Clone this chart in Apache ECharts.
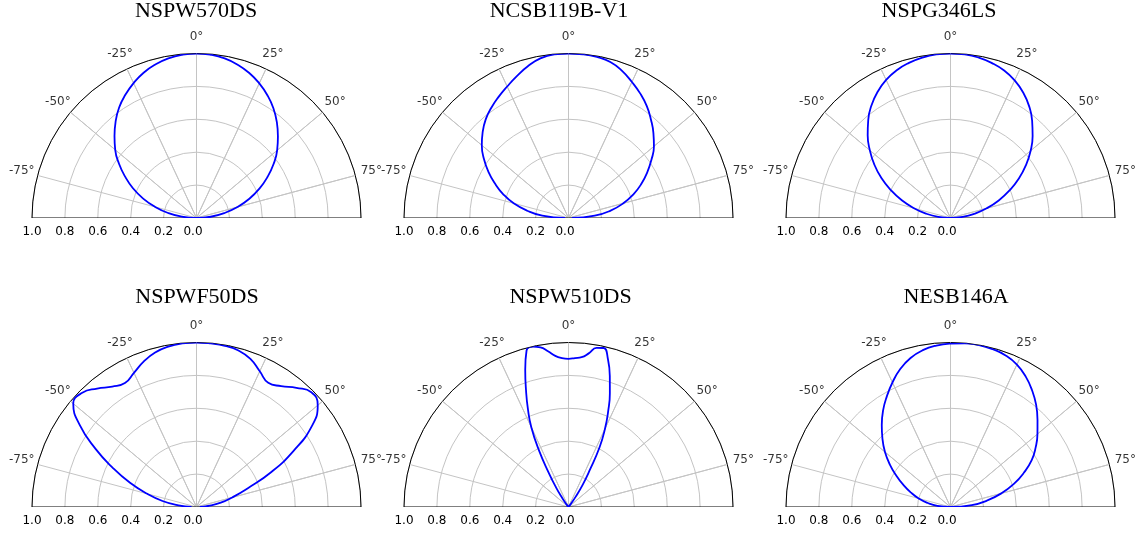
<!DOCTYPE html>
<html>
<head>
<meta charset="utf-8">
<script src="https://cdn.jsdelivr.net/npm/echarts@6/dist/echarts.min.js"></script>
<style>
html,body{margin:0;padding:0;background:#fff;}
#chart{width:1144px;height:534px;}
</style>
</head>
<body>
<div id="chart"></div>
<script>
// ---- data ----
const titles = ['NSPW570DS', 'NCSB119B-V1', 'NSPG346LS', 'NSPWF50DS', 'NSPW510DS', 'NESB146A'];
const angleTicks = [-75, -50, -25, 0, 25, 50, 75];
const radiusTicks = [0, 0.2, 0.4, 0.6, 0.8, 1.0];

const angles = [-90,-85,-80,-75,-70,-65,-60,-55,-50,-45,-40,-35,-30,-25,-20,-15,-10,-5,0,
                5,10,15,20,25,30,35,40,45,50,55,60,65,70,75,80,85,90];

const nspw570ds = [0.00,0.09,0.175,0.26,0.345,0.425,0.50,0.575,0.645,0.705,0.765,0.82,0.865,0.905,0.94,0.966,0.985,0.996,1.00,
                   0.996,0.985,0.965,0.938,0.903,0.862,0.815,0.76,0.70,0.64,0.572,0.498,0.422,0.342,0.258,0.172,0.087,0.00];

const ncsb119b = [0.02,0.16,0.255,0.345,0.422,0.492,0.562,0.628,0.688,0.738,0.783,0.818,0.85,0.882,0.918,0.955,0.985,0.998,1.00,
                  0.999,0.994,0.982,0.952,0.912,0.873,0.83,0.78,0.73,0.678,0.615,0.552,0.488,0.42,0.345,0.26,0.16,0.02];

const nspg346ls = [0.00,0.075,0.15,0.23,0.315,0.40,0.485,0.565,0.64,0.712,0.778,0.837,0.886,0.926,0.956,0.976,0.99,0.998,1.00,
                   0.998,0.99,0.975,0.954,0.923,0.882,0.832,0.772,0.706,0.636,0.56,0.48,0.396,0.312,0.228,0.148,0.074,0.00];

const nspwf50ds = [0.03,0.11,0.21,0.31,0.43,0.56,0.71,0.865,0.978,0.982,0.94,0.893,0.87,0.90,0.94,0.972,0.99,0.998,1.00,
                   0.998,0.995,0.985,0.958,0.91,0.872,0.897,0.945,0.987,0.962,0.855,0.68,0.50,0.33,0.225,0.15,0.07,0.02];

const nesb146a = [0.00,0.08,0.14,0.20,0.255,0.315,0.38,0.45,0.52,0.585,0.65,0.715,0.775,0.835,0.893,0.938,0.968,0.985,0.993,
                  0.999,1.00,0.993,0.98,0.955,0.915,0.865,0.81,0.748,0.69,0.632,0.57,0.492,0.41,0.32,0.225,0.13,0.00];

const anglesW510 = [-90,-60,-45,-40,-37.5,-35,-32.5,-30,-27.5,-25,-22.5,-20,-17.5,-15,-12.5,-10,-7.5,-5,-2.5,0,
                    2.5,5,7.5,10,12.5,15,17.5,20,22.5,25,27.5,30,32.5,35,37.5,40,45,60,90];
const nspw510ds = [0,0,0,0,0.02,0.065,0.14,0.24,0.39,0.535,0.645,0.755,0.875,0.985,0.998,0.985,0.955,0.922,0.906,0.901,
                   0.906,0.914,0.942,0.982,0.99,0.928,0.835,0.735,0.63,0.525,0.408,0.255,0.16,0.075,0.02,0,0,0,0];

const curves = [
  [angles, nspw570ds],
  [angles, ncsb119b],
  [angles, nspg346ls],
  [angles, nspwf50ds],
  [anglesW510, nspw510ds],
  [angles, nesb146a]
];

// ---- layout ----
const centers = [[196.5, 218], [568.5, 218], [950.5, 218], [196.5, 507], [568.5, 507], [950.5, 507]];
const titleLefts = [196, 559, 939, 197, 570.5, 956];
const titleTops = [0, 0, 0, 286, 286, 286];
const R = 164.5;
const LABEL_R = 1.1;

const chart = echarts.init(document.getElementById('chart'), null, {renderer: 'canvas'});

const polar = [], angleAxis = [], radiusAxis = [], series = [], title = [];

centers.forEach((c, i) => {
  polar.push({center: c, radius: R});
  angleAxis.push({
    polarIndex: i, type: 'value', min: -90, max: 90,
    startAngle: 180, endAngle: 0, clockwise: true,
    axisLine: {show: true, lineStyle: {color: '#000', width: 1}},
    axisTick: {show: false}, axisLabel: {show: false}, splitLine: {show: false}
  });
  radiusAxis.push({
    polarIndex: i, type: 'value', min: 0, max: 1, interval: 0.2,
    axisLine: {show: false}, axisTick: {show: false},
    axisLabel: {show: true, fontSize: 12, color: '#000', fontFamily: 'DejaVu Sans', margin: 8,
                formatter: v => (Number(v) === 0 ? '{z|0.0}' : Number(v).toFixed(1)),
                rich: {z: {fontSize: 12, color: '#000', fontFamily: 'DejaVu Sans', padding: [0, 7, 0, 0]}}},
    splitLine: {show: true, lineStyle: {color: '#c4c4c4', width: 1}}
  });
  title.push({
    text: titles[i], left: titleLefts[i], top: titleTops[i], textAlign: 'center', padding: 0,
    textStyle: {fontFamily: 'Liberation Serif', fontSize: 22, fontWeight: 'normal', color: '#000'}
  });
  // spokes
  const spokeData = [];
  angleTicks.forEach(a => { spokeData.push([1, a]); spokeData.push([0, a]); });
  series.push({
    type: 'line', coordinateSystem: 'polar', polarIndex: i, data: spokeData,
    symbol: 'none', clip: false, silent: true, animation: false, z: 1,
    lineStyle: {color: '#c4c4c4', width: 1}
  });
  // baseline
  series.push({
    type: 'line', coordinateSystem: 'polar', polarIndex: i,
    data: [[1, -90], [0, -90], [1, 90]],
    symbol: 'none', clip: false, silent: true, animation: false, z: 2,
    lineStyle: {color: '#000', width: 1}
  });
  // curve
  const [ang, val] = curves[i];
  series.push({
    type: 'line', coordinateSystem: 'polar', polarIndex: i,
    data: ang.map((a, j) => [val[j], a]),
    symbol: 'none', smooth: 0.5, clip: false, silent: true, animation: false, z: 5,
    lineStyle: {color: '#0000ff', width: 1.8}
  });
  // angle labels
  series.push({
    type: 'scatter', coordinateSystem: 'polar', polarIndex: i,
    data: angleTicks.map(a => [LABEL_R, a]),
    symbolSize: 0, clip: false, silent: true, animation: false, z: 6,
    label: {show: true, position: 'inside', formatter: p => p.value[1] + '°',
            fontSize: 12, color: '#000', fontFamily: 'DejaVu Sans'}
  });
});

chart.setOption({
  animation: false,
  backgroundColor: '#fff',
  title, polar, angleAxis, radiusAxis, series
});
</script>
</body>
</html>
